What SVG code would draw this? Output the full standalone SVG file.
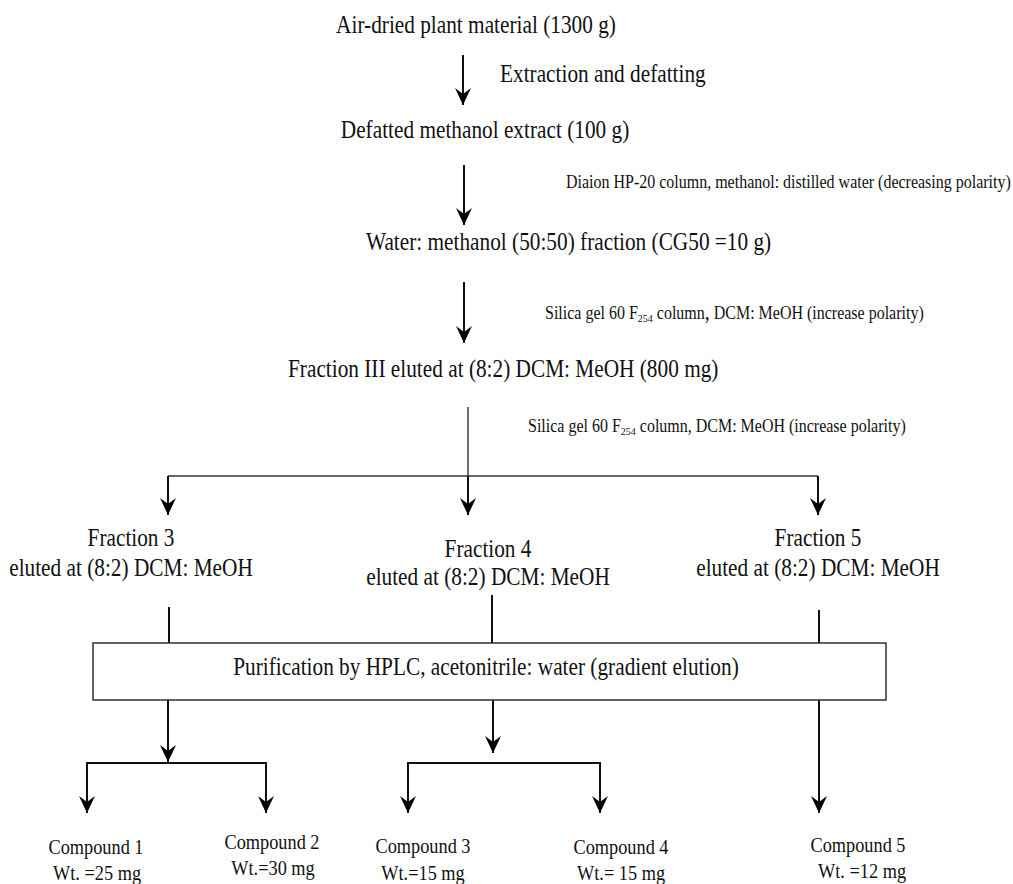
<svg xmlns="http://www.w3.org/2000/svg" width="1013" height="884" viewBox="0 0 1013 884">
<defs>
<style>
text{font-family:"Liberation Serif","Times New Roman",serif;fill:#111}
.m{font-size:21.3px}
.s{font-size:16px}
.c{font-size:18.3px}
.mid{text-anchor:middle}
.ln{stroke:#111;stroke-width:2;fill:none}
.thin{stroke:#333;stroke-width:1.4;fill:none}
.box{stroke:#222;stroke-width:1.4;fill:#fff}
</style>
<marker id="ad" viewBox="0 0 16 17" refX="8" refY="17" markerWidth="16" markerHeight="17" markerUnits="userSpaceOnUse" orient="0">
<path d="M0,0 L8,17 L16,0 L8,6 Z" fill="#000"/>
</marker>
</defs>
<g id="connectors">
<line class="ln" x1="463" y1="55" x2="463" y2="105" marker-end="url(#ad)"/>
<line class="ln" x1="464" y1="165" x2="464" y2="225" marker-end="url(#ad)"/>
<line class="ln" x1="464" y1="282" x2="464" y2="343" marker-end="url(#ad)"/>
<line class="thin" x1="468" y1="407" x2="468" y2="476"/>
<line class="thin" x1="168" y1="476" x2="818" y2="476"/>
<line class="ln" x1="168" y1="476" x2="168" y2="515" marker-end="url(#ad)"/>
<line class="ln" x1="468" y1="476" x2="468" y2="515" marker-end="url(#ad)"/>
<line class="ln" x1="818" y1="476" x2="818" y2="515" marker-end="url(#ad)"/>
<line class="ln" x1="169" y1="607" x2="169" y2="643"/>
<line class="ln" x1="492" y1="595" x2="492" y2="643"/>
<line class="ln" x1="819" y1="610" x2="819" y2="643"/>
<line class="ln" x1="168" y1="700" x2="168" y2="762" marker-end="url(#ad)"/>
<polyline class="ln" points="87,800 87,763 266,763 266,800"/>
<line class="ln" x1="87" y1="763" x2="87" y2="813" marker-end="url(#ad)"/>
<line class="ln" x1="266" y1="763" x2="266" y2="813" marker-end="url(#ad)"/>
<line class="ln" x1="493" y1="700" x2="493" y2="753" marker-end="url(#ad)"/>
<polyline class="ln" points="408,800 408,763 600,763 600,800"/>
<line class="ln" x1="408" y1="763" x2="408" y2="813" marker-end="url(#ad)"/>
<line class="ln" x1="600" y1="763" x2="600" y2="813" marker-end="url(#ad)"/>
<line class="ln" x1="819" y1="700" x2="819" y2="813" marker-end="url(#ad)"/>
</g>
<g id="n-start"><text class="m mid" transform="translate(476,33) scale(1,1.14)">Air-dried plant material (1300 g)</text></g>
<g id="l-extraction"><text class="m" transform="translate(500,82) scale(1,1.14)">Extraction and defatting</text></g>
<g id="n-defatted"><text class="m mid" transform="translate(485,138) scale(1,1.14)">Defatted methanol extract (100 g)</text></g>
<g id="l-diaion"><text class="s" transform="translate(566,188) scale(1,1.14)">Diaion HP-20 column, methanol: distilled water (decreasing polarity)</text></g>
<g id="n-water"><text class="m" transform="translate(366,250) scale(1,1.14)">Water: methanol (50:50) fraction (CG50 =10 g)</text></g>
<g id="l-silica1"><text class="s" transform="translate(545,319) scale(1,1.14)">Silica gel 60 F<tspan font-size="10" dy="3">254</tspan><tspan dy="-3"> column</tspan><tspan font-size="20">,</tspan> DCM: MeOH (increase polarity)</text></g>
<g id="n-fraction3"><text class="m" transform="translate(288,377) scale(1,1.14)">Fraction III eluted at (8:2) DCM: MeOH (800 mg)</text></g>
<g id="l-silica2"><text class="s" transform="translate(528,432) scale(1,1.14)">Silica gel 60 F<tspan font-size="10" dy="3">254</tspan><tspan dy="-3"> column, DCM: MeOH (increase polarity)</tspan></text></g>
<g id="n-f3"><text class="m mid" transform="translate(131,546) scale(1,1.14)">Fraction 3</text><text class="m mid" transform="translate(131,576) scale(1,1.14)">eluted at (8:2) DCM: MeOH</text></g>
<g id="n-f4"><text class="m mid" transform="translate(488,557) scale(1,1.14)">Fraction 4</text><text class="m mid" transform="translate(488,585) scale(1,1.14)">eluted at (8:2) DCM: MeOH</text></g>
<g id="n-f5"><text class="m mid" transform="translate(818,546) scale(1,1.14)">Fraction 5</text><text class="m mid" transform="translate(818,576) scale(1,1.14)">eluted at (8:2) DCM: MeOH</text></g>
<g id="n-hplc"><rect class="box" x="93" y="643" width="793" height="57"/><text class="m mid" transform="translate(486,675) scale(1,1.14)">Purification by HPLC, acetonitrile: water (gradient elution)</text></g>
<g id="n-c1"><text class="c mid" transform="translate(96,854) scale(1,1.14)">Compound 1</text><text class="c mid" transform="translate(97,880) scale(1,1.14)">Wt. =25 mg</text></g>
<g id="n-c2"><text class="c mid" transform="translate(272,849) scale(1,1.14)">Compound 2</text><text class="c mid" transform="translate(273,875) scale(1,1.14)">Wt.=30 mg</text></g>
<g id="n-c3"><text class="c mid" transform="translate(423,853) scale(1,1.14)">Compound 3</text><text class="c mid" transform="translate(423,880) scale(1,1.14)">Wt.=15 mg</text></g>
<g id="n-c4"><text class="c mid" transform="translate(621,854) scale(1,1.14)">Compound 4</text><text class="c mid" transform="translate(621,880) scale(1,1.14)">Wt.= 15 mg</text></g>
<g id="n-c5"><text class="c mid" transform="translate(858,852) scale(1,1.14)">Compound 5</text><text class="c mid" transform="translate(862,878) scale(1,1.14)">Wt. =12 mg</text></g>
</svg>
